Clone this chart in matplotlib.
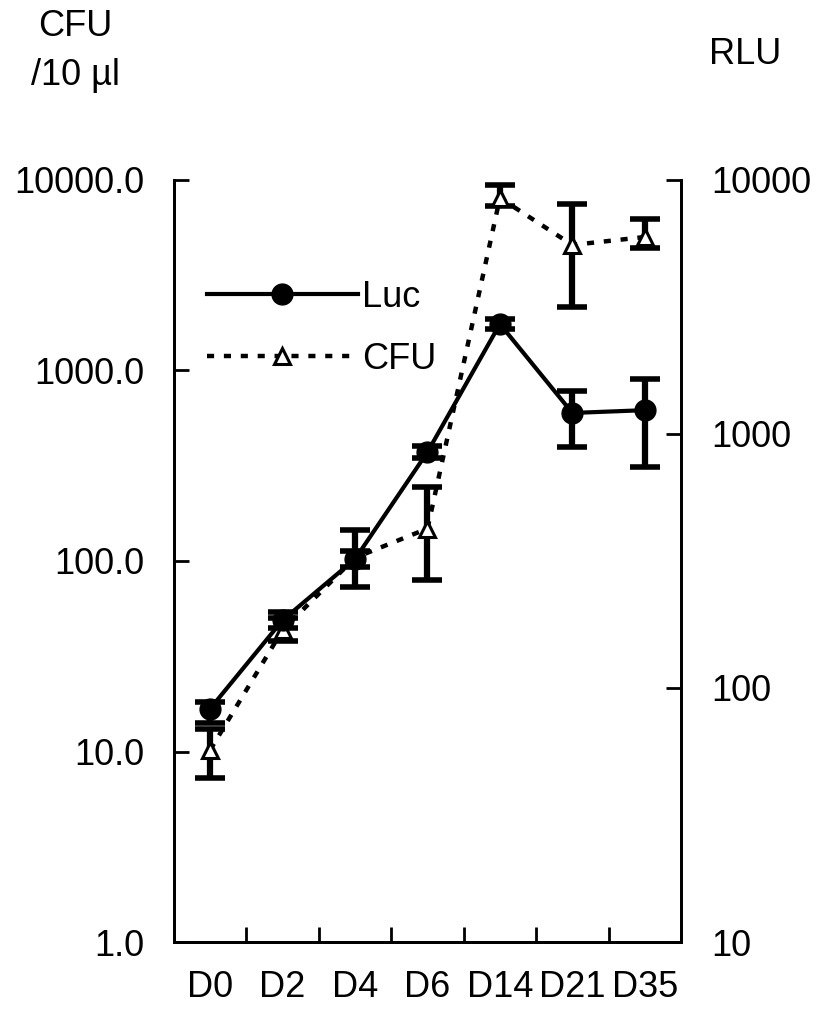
import numpy as np
import matplotlib
matplotlib.use("Agg")
import matplotlib.pyplot as plt

plt.rcParams['font.family'] = ['Liberation Sans', 'DejaVu Sans']

days = ["D0", "D2", "D4", "D6", "D14", "D21", "D35"]

# CFU /10 ul (left axis)
cfu = [10.2, 43.5, 104, 148, 8050, 4560, 5020]
cfu_lo = [7.3, 38, 73, 79, 7310, 2150, 4400]
cfu_hi = [13.2, 50, 146, 245, 9410, 7480, 6240]

# Luc RLU (right axis)
luc = [83, 185, 322, 849, 2710, 1210, 1241]
luc_lo = [73, 172, 300, 805, 2590, 889, 741]
luc_hi = [88, 200, 345, 895, 2830, 1476, 1648]

x = np.arange(len(days))

fig = plt.figure(figsize=(8.17, 10.14), dpi=100)
ax = fig.add_axes([0.213, 0.071, 0.6205, 0.7515])
ax2 = ax.twinx()

cfu_err = [np.array(cfu) - np.array(cfu_lo), np.array(cfu_hi) - np.array(cfu)]
luc_err = [np.array(luc) - np.array(luc_lo), np.array(luc_hi) - np.array(luc)]

ax.errorbar(x, cfu, yerr=cfu_err, fmt='none', ecolor='black', elinewidth=4.5,
            capsize=11, capthick=4)
l_cfu, = ax.plot(x, cfu, color='black', linestyle=(0, (1.6, 2.2)), linewidth=3.2,
                 marker='^', markersize=11, markerfacecolor='white',
                 markeredgecolor='black', markeredgewidth=2.2, label='CFU')

ax2.errorbar(x, luc, yerr=luc_err, fmt='none', ecolor='black', elinewidth=4.5,
             capsize=11, capthick=4)
l_luc, = ax2.plot(x, luc, color='black', linestyle='-', linewidth=3,
                  marker='o', markersize=15, markerfacecolor='black',
                  markeredgecolor='black', label='Luc')

ax.set_yscale('log')
ax.set_ylim(1, 10000)
ax.set_yticks([1, 10, 100, 1000, 10000])
ax.set_yticklabels(["1.0", "10.0", "100.0", "1000.0", "10000.0"])
ax.yaxis.set_minor_locator(matplotlib.ticker.NullLocator())

ax2.set_yscale('log')
ax2.set_ylim(10, 10000)
ax2.set_yticks([10, 100, 1000, 10000])
ax2.set_yticklabels(["10", "100", "1000", "10000"])
ax2.yaxis.set_minor_locator(matplotlib.ticker.NullLocator())

ax.set_xlim(-0.5, len(days) - 0.5)
ax.set_xticks(x)
ax.set_xticklabels(days)
ax.set_xticks(x[:-1] + 0.5, minor=True)
ax.tick_params(axis='x', which='major', length=0, pad=20, labelsize=26)
ax.tick_params(axis='x', which='minor', direction='in', length=11, width=2)
ax.tick_params(axis='y', which='major', direction='in', length=11, width=2,
               pad=21, labelsize=26)
ax2.tick_params(axis='y', which='major', direction='in', length=11, width=2,
                pad=22, labelsize=26)

for a in (ax, ax2):
    for s in a.spines.values():
        s.set_linewidth(2)
ax.spines['top'].set_visible(False)
ax2.spines['top'].set_visible(False)

leg = ax2.legend(handles=[l_luc, l_cfu], loc='upper left',
                 bbox_to_anchor=(0.0, 0.912), frameon=False, fontsize=26,
                 handlelength=4.2, handletextpad=0.1, labelspacing=0.75,
                 numpoints=1)

fig.text(0.092, 0.974, "CFU", ha='center', va='center', fontsize=26)
fig.text(0.092, 0.926, "/10 µl", ha='center', va='center', fontsize=26)
fig.text(0.912, 0.946, "RLU", ha='center', va='center', fontsize=26)

fig.savefig("out.png", dpi=100)
